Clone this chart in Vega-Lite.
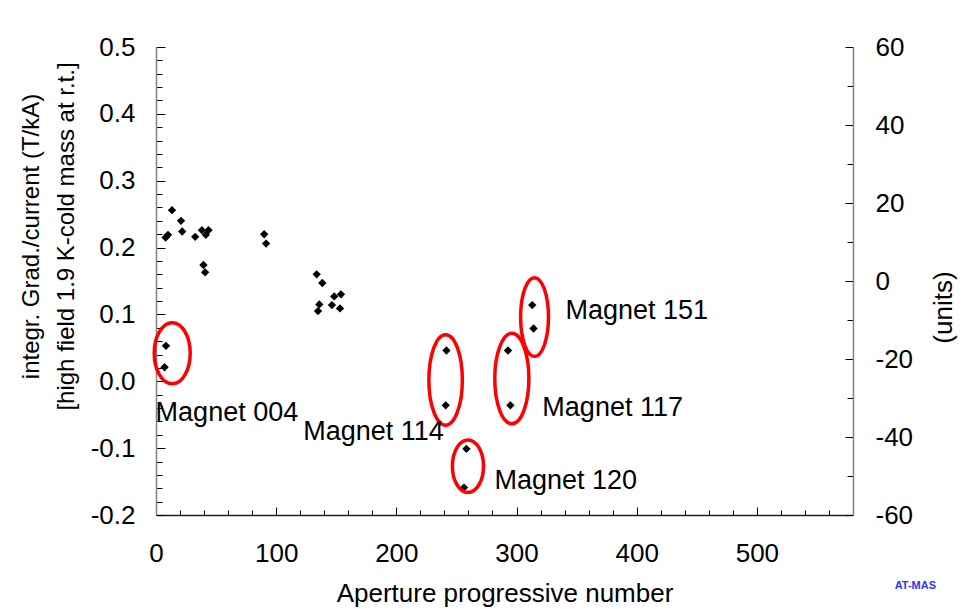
{
  "$schema": "https://vega.github.io/schema/vega-lite/v6.json",
  "width": 697,
  "height": 468,
  "autosize": "none",
  "padding": {"left": 156, "top": 47, "right": 113, "bottom": 94},
  "background": "white",
  "datasets": {
    "points": [
      {"n": 8, "g": 0.215}, {"n": 10, "g": 0.219}, {"n": 13.3, "g": 0.256}, {"n": 20.8, "g": 0.240},
      {"n": 21.8, "g": 0.224}, {"n": 32.6, "g": 0.216}, {"n": 38.2, "g": 0.226}, {"n": 41.5, "g": 0.219},
      {"n": 43.7, "g": 0.226}, {"n": 39.5, "g": 0.174}, {"n": 40.9, "g": 0.163}, {"n": 90, "g": 0.220},
      {"n": 91.6, "g": 0.206}, {"n": 133.7, "g": 0.160}, {"n": 138.4, "g": 0.147}, {"n": 148.3, "g": 0.127},
      {"n": 153.9, "g": 0.130}, {"n": 135.9, "g": 0.115}, {"n": 134.8, "g": 0.105}, {"n": 146.4, "g": 0.114},
      {"n": 153.1, "g": 0.109}, {"n": 8.3, "g": 0.053}, {"n": 7.1, "g": 0.021}, {"n": 241.7, "g": 0.046},
      {"n": 241.1, "g": -0.036}, {"n": 292.9, "g": 0.046}, {"n": 294.9, "g": -0.036}, {"n": 313.1, "g": 0.114},
      {"n": 314.2, "g": 0.079}, {"n": 258.3, "g": -0.101}, {"n": 256.3, "g": -0.159}
    ],
    "magnets": [
      {"magnet": "004", "label": "Magnet 004", "cx": 13.5, "cy": 0.042, "lx": 59, "ly": -0.047},
      {"magnet": "114", "label": "Magnet 114", "cx": 241.0, "cy": 0.002, "lx": 181, "ly": -0.076},
      {"magnet": "117", "label": "Magnet 117", "cx": 296.1, "cy": 0.004, "lx": 380, "ly": -0.040},
      {"magnet": "120", "label": "Magnet 120", "cx": 259.6, "cy": -0.127, "lx": 341, "ly": -0.149},
      {"magnet": "151", "label": "Magnet 151", "cx": 315.0, "cy": 0.096, "lx": 400, "ly": 0.105}
    ]
  },
  "title": {
    "text": "AT-MAS", "orient": "bottom", "anchor": "end", "frame": "group",
    "dx": 83, "offset": -26, "fontSize": 11, "fontWeight": "bold", "color": "#3333ee", "font": "Liberation Sans"
  },
  "layer": [
    {
      "layer": [
        {
          "data": {"name": "points"},
          "mark": {"type": "point", "shape": "diamond", "filled": true, "color": "#000", "size": 70, "opacity": 1},
          "encoding": {
            "x": {
              "field": "n", "type": "quantitative",
              "scale": {"domain": [0, 580], "nice": false, "zero": false},
              "axis": {
                "title": "Aperture progressive number",
                "values": [0,20,40,60,80,100,120,140,160,180,200,220,240,260,280,300,320,340,360,380,400,420,440,460,480,500,520,540,560],
                "tickCount": 100,
                "labelExpr": "datum.value % 100 == 0 ? datum.label : ''",
                "tickSize": {"condition": {"test": "datum.value % 100 == 0", "value": -8}, "value": -5},
                "labelPadding": 33,
                "labelFontSize": 26,
                "labelOverlap": false,
                "labelFlush": false,
                "labelBound": false,
                "domainColor": "#222",
                "domainWidth": 1.5,
                "titleFontSize": 26,
                "titleFontWeight": "normal",
                "titleBaseline": "middle",
                "titleY": 78
              }
            },
            "y": {
              "field": "g", "type": "quantitative",
              "scale": {"domain": [-0.2, 0.5], "nice": false, "zero": false},
              "axis": {
                "title": ["integr. Grad./current (T/kA)", "[high field 1.9 K-cold mass at r.t.]"],
                "values": [-0.2,-0.18,-0.16,-0.14,-0.12,-0.1,-0.08,-0.06,-0.04,-0.02,0,0.02,0.04,0.06,0.08,0.1,0.12,0.14,0.16,0.18,0.2,0.22,0.24,0.26,0.28,0.3,0.32,0.34,0.36,0.38,0.4,0.42,0.44,0.46,0.48,0.5],
                "tickCount": 100,
                "labelExpr": "abs(datum.value*10 - round(datum.value*10)) < 0.001 ? format(datum.value, '.1f') : ''",
                "tickSize": {"condition": {"test": "abs(datum.value*10 - round(datum.value*10)) < 0.001", "value": -9}, "value": -6},
                "labelPadding": 30,
                "labelFontSize": 26,
                "labelOverlap": false,
                "labelFlush": false,
                "labelBound": false,
                "domainColor": "#808080",
                "domainWidth": 1.5,
                "titleFontSize": 24,
                "titleFontWeight": "normal",
                "titleLineHeight": 35,
                "titleX": -113,
                "titleY": 189
              }
            }
          }
        },
        {
          "data": {"name": "magnets"},
          "mark": {"type": "point", "filled": false, "stroke": "#ff0000", "color": "#ff0000", "strokeWidth": 3.5, "size": 8190, "opacity": 1},
          "encoding": {
            "x": {"field": "cx", "type": "quantitative"},
            "y": {"field": "cy", "type": "quantitative"},
            "shape": {
              "field": "magnet", "type": "nominal", "legend": null,
              "scale": {
                "domain": ["004", "114", "117", "120", "151"],
                "range": [
                  "M-0.398,0A0.398,0.674 0 1,0 0.398,0A0.398,0.674 0 1,0 -0.398,0Z",
                  "M-0.370,0A0.370,1 0 1,0 0.370,0A0.370,1 0 1,0 -0.370,0Z",
                  "M-0.377,0A0.377,1 0 1,0 0.377,0A0.377,1 0 1,0 -0.377,0Z",
                  "M-0.344,0A0.344,0.580 0 1,0 0.344,0A0.344,0.580 0 1,0 -0.344,0Z",
                  "M-0.308,0A0.308,0.872 0 1,0 0.308,0A0.308,0.872 0 1,0 -0.308,0Z"
                ]
              }
            }
          }
        },
        {
          "data": {"name": "magnets"},
          "mark": {"type": "text", "font": "Liberation Sans", "fontSize": 27, "align": "center", "baseline": "middle", "color": "#000"},
          "encoding": {
            "x": {"field": "lx", "type": "quantitative"},
            "y": {"field": "ly", "type": "quantitative"},
            "text": {"field": "label", "type": "nominal"}
          }
        }
      ]
    },
    {
      "data": {"name": "magnets"},
      "mark": {"type": "point", "opacity": 0},
      "encoding": {
        "y": {
          "datum": 0, "type": "quantitative",
          "scale": {"domain": [-60, 60], "nice": false, "zero": false},
          "axis": {
            "orient": "right",
            "title": "(units)",
            "values": [-60,-50,-40,-30,-20,-10,0,10,20,30,40,50,60],
            "tickCount": 100,
            "labelExpr": "datum.value % 20 == 0 ? datum.label : ''",
            "tickSize": {"condition": {"test": "datum.value % 20 == 0", "value": -8}, "value": -6},
            "labelPadding": 30,
            "labelFontSize": 26,
            "labelOverlap": false,
            "labelFlush": false,
            "labelBound": false,
            "domainColor": "#808080",
            "domainWidth": 1.5,
            "titleFontSize": 26,
            "titleFontWeight": "normal",
            "titleAngle": 270,
            "titleBaseline": "middle",
            "titleX": 90,
            "titleY": 260
          }
        }
      }
    }
  ],
  "resolve": {"scale": {"y": "independent"}, "axis": {"y": "independent"}},
  "config": {
    "font": "Liberation Sans",
    "locale": {
      "number": {"decimal": ".", "thousands": ",", "grouping": [3], "currency": ["$", ""], "minus": "-"}
    },
    "view": {"stroke": null},
    "axis": {
      "grid": false,
      "labelFont": "Liberation Sans",
      "titleFont": "Liberation Sans",
      "labelColor": "#000",
      "titleColor": "#000",
      "tickColor": "#000",
      "tickWidth": 1
    }
  }
}
